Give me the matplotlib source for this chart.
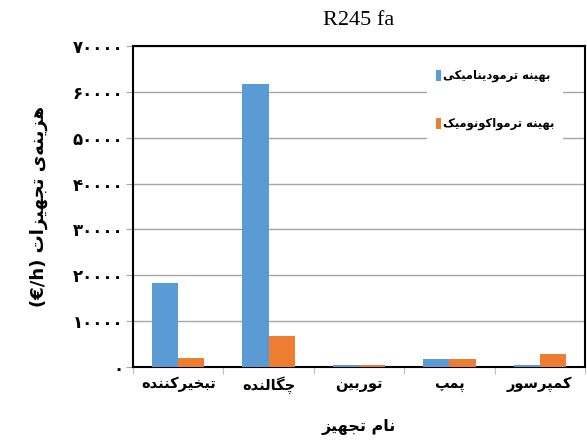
import matplotlib
matplotlib.use("Agg")
import matplotlib.pyplot as plt
import numpy as np

# --- data ---
equipment = ["تبخیرکننده", "چگالنده", "توربین", "پمپ", "کمپرسور"]
thermo = [18300, 61800, 350, 1650, 350]          # بهینه ترمودینامیکی
thermoeco = [1900, 6800, 350, 1650, 2800]        # بهینه ترمواکونومیک
series_names = ["بهینه ترمودینامیکی", "بهینه ترمواکونومیک"]
yticks = [0, 10000, 20000, 30000, 40000, 50000, 60000, 70000]

# minimal Persian shaping (matplotlib has no complex text layout)
FORMS = {
    "ا": "\uFE8D\uFE8E", "د": "\uFEA9\uFEAA", "ر": "\uFEAD\uFEAE",
    "ز": "\uFEAF\uFEB0", "و": "\uFEED\uFEEE",
    "ب": "\uFE8F\uFE90\uFE91\uFE92", "پ": "\uFB56\uFB57\uFB58\uFB59",
    "ت": "\uFE95\uFE96\uFE97\uFE98", "ج": "\uFE9D\uFE9E\uFE9F\uFEA0",
    "چ": "\uFB7A\uFB7B\uFB7C\uFB7D", "خ": "\uFEA5\uFEA6\uFEA7\uFEA8",
    "س": "\uFEB1\uFEB2\uFEB3\uFEB4", "ک": "\uFB8E\uFB8F\uFB90\uFB91",
    "گ": "\uFB92\uFB93\uFB94\uFB95", "ل": "\uFEDD\uFEDE\uFEDF\uFEE0",
    "م": "\uFEE1\uFEE2\uFEE3\uFEE4", "ن": "\uFEE5\uFEE6\uFEE7\uFEE8",
    "ه": "\uFEE9\uFEEA\uFEEB\uFEEC", "ی": "\uFBFC\uFBFD\uFBFE\uFBFF",
}


def fa(text):
    out = []
    for i, c in enumerate(text):
        if c not in FORMS:
            if c != "\u200c":
                out.append(c)
            continue
        prev = text[i - 1] if i > 0 else None
        nxt = text[i + 1] if i + 1 < len(text) else None
        jp = prev in FORMS and len(FORMS[prev]) == 4
        jn = nxt in FORMS and len(FORMS[c]) == 4
        f = FORMS[c]
        if jp and jn:
            out.append(f[3])
        elif jp:
            out.append(f[1])
        elif jn:
            out.append(f[2])
        else:
            out.append(f[0])
    return "".join(out)[::-1]


def fa_digits(n):
    return "".join(chr(0x06F0 + int(d)) for d in str(n))


plt.rcParams["font.family"] = ["DejaVu Sans"]

fig = plt.figure(figsize=(5.87, 4.41), dpi=100)
ax = fig.add_axes([0.2266, 0.168, 0.77, 0.7276])

x = np.arange(len(equipment))
w = 0.29
blue = "#5B9BD5"
orange = "#ED7D31"
ax.bar(x - w / 2, thermo, w, color=blue, label=fa(series_names[0]), zorder=3)
ax.bar(x + w / 2, thermoeco, w, color=orange, label=fa(series_names[1]), zorder=3)

ax.set_xlim(-0.5, len(equipment) - 0.5)
ax.set_ylim(0, 70000)
ax.set_yticks(yticks)
ax.set_yticklabels([fa_digits(v) for v in yticks], fontsize=12, fontweight="bold")
ax.yaxis.grid(True, color="#a6a6a6", lw=1.0, zorder=0)
ax.tick_params(axis="y", length=5, color="#a6a6a6", pad=2)

ax.set_xticks(np.arange(len(equipment) + 1) - 0.5)
ax.set_xticklabels([])
ax.set_xticks(x, minor=True)
ax.set_xticklabels([fa(e) for e in equipment], minor=True, fontsize=10.5, fontweight="bold")
ax.tick_params(axis="x", which="major", length=5, color="#bfbfbf")
ax.tick_params(axis="x", which="minor", length=0, pad=7)

for s in ax.spines.values():
    s.set_color("black")
    s.set_linewidth(1.5)

ax.set_title("R245 fa", fontsize=16, family="Liberation Serif", pad=15)
ax.set_xlabel(fa("نام تجهیز"), fontsize=11.5, fontweight="bold", labelpad=18)
ax.set_ylabel("(€/h) " + fa("هزینه‌ی تجهیزات"), fontsize=13, fontweight="bold", labelpad=18)

leg = ax.legend(loc="upper right", bbox_to_anchor=(0.965, 0.975), markerfirst=True,
                handlelength=0.45, handleheight=1.1, handletextpad=0.15,
                labelspacing=3.0, borderpad=0.8, frameon=True, fancybox=False,
                prop={"size": 8.3, "weight": "bold"})
leg.get_frame().set_facecolor("white")
leg.get_frame().set_edgecolor("none")
leg.get_frame().set_alpha(1)

fig.savefig("out.png", dpi=100)
